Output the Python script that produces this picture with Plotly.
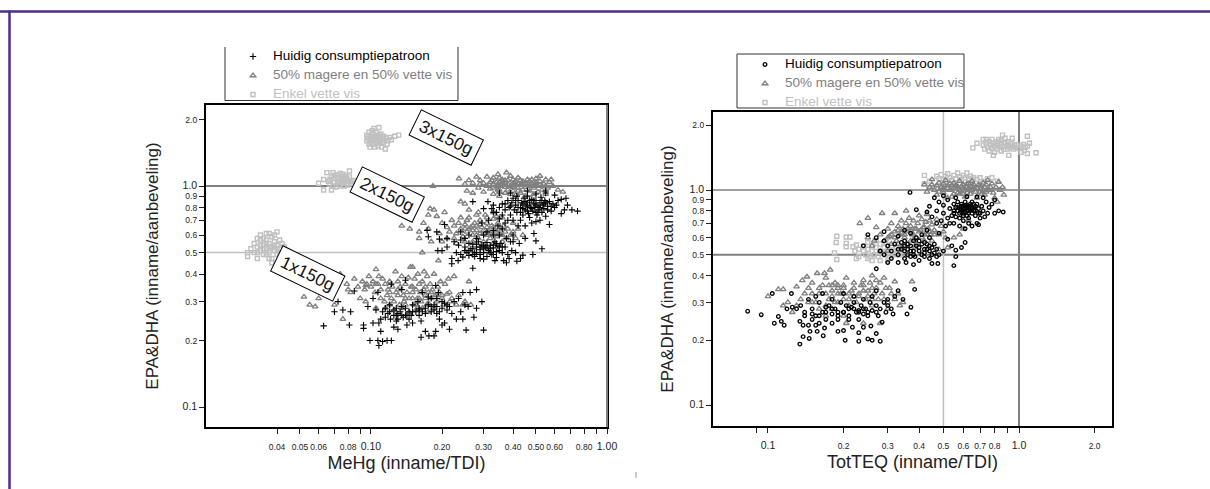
import plotly.graph_objects as go

# ---------- left panel: MeHg (x, y) ----------
mehg_huidig = [
 (.063,.233),(.0725,.30),(.07,.27),(.076,.275),(.082,.27),(.081,.235),(.085,.335),(.099,.2),(.107,.2),(.108,.19),(.112,.198),(.117,.2),(.122,.2),(.11,.22),(.093,.235),(.093,.227),(.102,.24),(.097,.285),(.102,.31),(.107,.33),(.122,.36),(.105,.275),(.112,.27),(.118,.265),(.121,.25),(.128,.245),(.133,.27),(.137,.255),(.142,.26),(.148,.26),(.155,.27),(.163,.245),(.115,.255),(.125,.275),(.12,.29),(.13,.265),(.135,.285),(.14,.28),(.15,.29),(.158,.30),(.165,.27),(.17,.28),(.175,.29),(.18,.27),(.185,.275),(.19,.265),(.195,.27),(.20,.30),(.205,.295),(.21,.275),(.215,.285),(.195,.25),(.2,.235),(.205,.24),(.215,.225),(.163,.207),(.17,.22),(.176,.21),(.188,.22),(.185,.21),(.253,.223),(.30,.223),(.295,.30),(.28,.34),(.263,.33),(.245,.33),(.273,.255),(.28,.28),(.258,.285),(.24,.27),(.245,.25),(.25,.29),(.235,.31),(.225,.30),(.22,.265),(.23,.25),(.15,.24),(.142,.235),(.13,.225),(.125,.23),(.16,.26),(.145,.27),(.128,.26),(.175,.315),(.188,.355),(.193,.33),(.135,.34),(.14,.375),(.165,.33),(.18,.31),(.108,.24),(.115,.28),(.19,.31),
 (.12,.27),(.125,.26),(.13,.25),(.14,.26),(.145,.25),(.15,.27),(.16,.28),(.17,.265),(.18,.285),(.19,.285),(.2,.28),(.135,.26),(.11,.25),(.128,.28),(.185,.29),(.21,.29),(.16,.275),
 (.22,.445),(.22,.47),(.234,.46),(.245,.477),(.27,.425),(.30,.467),(.335,.46),(.34,.475),(.365,.46),(.375,.45),(.415,.457),(.44,.487),(.485,.49),(.53,.52),(.50,.565),(.49,.61),(.173,.63),(.175,.59),(.19,.62),(.195,.575),(.205,.67),(.21,.58),(.192,.51),(.20,.51),(.21,.53),(.235,.54),(.24,.57),(.25,.53),(.255,.50),(.26,.55),(.265,.52),(.27,.545),(.275,.50),(.28,.53),(.285,.56),(.29,.515),(.295,.54),(.30,.50),(.305,.53),(.31,.555),(.315,.51),(.32,.54),(.325,.49),(.33,.525),(.335,.56),(.34,.505),(.345,.535),(.26,.485),(.275,.48),(.29,.49),(.31,.48),(.32,.50),(.35,.51),(.355,.55),(.36,.50),(.37,.53),(.38,.49),(.395,.51),(.41,.50),(.425,.55),(.39,.56),(.40,.60),(.375,.58),(.35,.60),(.33,.60),(.31,.62),(.30,.60),(.28,.58),(.26,.60),(.25,.58),(.24,.62),(.225,.56),(.23,.50),(.24,.49),(.36,.64),(.345,.66),(.37,.68),(.33,.63),(.295,.68),(.40,.56),(.45,.58),(.315,.70),(.43,.47),(.385,.47),
 (.27,.52),(.28,.50),(.30,.52),(.31,.53),(.29,.53),(.33,.54),(.35,.53),(.26,.51),(.28,.545),(.32,.52),(.34,.55),(.30,.54),(.36,.53),(.27,.49),(.29,.47),(.33,.49),(.25,.51),
 (.27,.85),(.313,.85),(.35,.93),(.325,.79),(.33,.76),(.71,.78),(.75,.77),(.67,.88),(.6,.91),(.55,.93),(.57,.67),(.50,.69),(.36,.83),(.37,.78),(.38,.86),(.385,.80),(.39,.74),(.395,.84),(.40,.88),(.405,.78),(.41,.82),(.415,.76),(.42,.86),(.43,.80),(.435,.84),(.44,.74),(.445,.88),(.45,.78),(.455,.82),(.46,.90),(.465,.75),(.47,.84),(.475,.80),(.48,.87),(.485,.77),(.49,.83),(.495,.80),(.50,.86),(.505,.74),(.51,.81),(.515,.78),(.52,.84),(.525,.89),(.53,.76),(.535,.82),(.54,.79),(.545,.86),(.55,.73),(.56,.81),(.57,.85),(.58,.77),(.59,.83),(.60,.80),(.62,.86),(.64,.75),(.66,.78),(.50,.92),(.46,.95),(.40,.70),(.43,.70),(.45,.66),(.47,.72),(.42,.66),(.38,.70),(.34,.76),(.35,.71),(.36,.74),(.30,.79),(.33,.82),(.55,.95),(.64,.87),(.68,.82),(.52,.70),(.48,.68),(.39,.93),(.415,.9),
 (.42,.80),(.44,.79),(.46,.81),(.48,.79),(.50,.82),(.52,.80),(.54,.83),(.56,.78),(.44,.83),(.47,.86),(.50,.76),(.53,.86),(.41,.86),(.43,.76),(.46,.77),(.49,.86),(.51,.76),(.55,.84),(.58,.81),(.61,.82),(.45,.85),(.39,.81),(.37,.83),(.35,.80),
]
mehg_mix = [
 (.052,.315),(.055,.29),(.058,.285),(.06,.31),(.07,.29),(.076,.25),(.079,.36),(.08,.34),(.074,.40),(.071,.38),(.082,.33),(.085,.38),(.088,.35),(.09,.31),(.092,.37),(.094,.34),(.096,.36),(.098,.39),(.10,.35),(.102,.37),(.104,.33),(.105,.42),(.107,.36),(.108,.39),(.11,.34),(.112,.38),(.114,.30),(.115,.36),(.117,.32),(.118,.34),(.12,.37),(.122,.31),(.123,.35),(.125,.30),(.127,.41),(.128,.33),(.13,.37),(.132,.29),(.133,.35),(.135,.39),(.137,.32),(.138,.30),(.14,.36),(.142,.33),(.144,.385),(.145,.31),(.147,.43),(.148,.35),(.15,.33),(.152,.29),(.153,.38),(.155,.34),(.157,.31),(.158,.40),(.16,.36),(.162,.33),(.163,.30),(.165,.37),(.167,.34),(.168,.41),(.17,.32),(.172,.29),(.173,.39),(.175,.33),(.178,.36),(.18,.31),(.182,.34),(.185,.40),(.187,.32),(.19,.30),(.192,.35),(.195,.33),(.197,.37),(.20,.31),(.203,.29),(.206,.36),(.21,.325),(.213,.38),(.216,.30),(.22,.31),(.225,.39),(.235,.32),(.245,.29),(.25,.30),(.26,.37),(.265,.29),(.23,.29),(.215,.33),(.095,.30),(.105,.28),(.115,.28),(.125,.275),(.135,.28),(.145,.27),(.155,.275),(.165,.28),(.175,.27),(.185,.28),
 (.12,.33),(.13,.32),(.14,.31),(.15,.31),(.16,.31),(.17,.31),(.18,.33),(.13,.34),(.15,.35),(.17,.35),(.19,.32),(.2,.32),(.11,.31),(.12,.29),(.14,.29),(.155,.29),(.175,.295),(.105,.36),(.095,.355),
 (.15,.43),(.193,.46),(.165,.50),(.135,.66),(.146,.64),(.16,.58),(.167,.68),(.178,.79),(.185,.78),(.175,.74),(.19,.73),(.205,.76),(.24,.85),(.25,.83),(.26,.78),(.285,.76),(.24,.72),(.255,.70),(.20,.68),(.21,.65),(.215,.62),(.22,.70),(.225,.66),(.23,.61),(.235,.68),(.24,.64),(.245,.59),(.25,.67),(.255,.62),(.26,.72),(.265,.65),(.27,.60),(.275,.68),(.28,.63),(.285,.58),(.29,.70),(.295,.65),(.30,.61),(.305,.74),(.31,.68),(.315,.62),(.32,.58),(.325,.66),(.33,.71),(.335,.63),(.34,.59),(.345,.68),(.35,.64),(.355,.60),(.36,.56),(.365,.66),(.37,.62),(.375,.58),(.38,.64),(.39,.60),(.40,.62),(.41,.58),(.42,.64),(.44,.60),(.31,.72),(.36,.72),(.40,.68),(.27,.56),(.30,.56),(.33,.55),(.25,.56),(.225,.58),(.21,.58),(.195,.61),(.28,.74),(.34,.73),(.33,.76),(.20,.56),(.23,.55),(.18,.56),(.16,.62),(.175,.64),
 (.26,.64),(.27,.63),(.28,.66),(.29,.61),(.30,.63),(.31,.65),(.32,.61),(.33,.6),(.34,.62),(.35,.61),(.27,.66),(.29,.67),(.31,.6),(.28,.6),(.25,.64),(.36,.6),(.33,.65),
 (.236,1.08),(.26,1.06),(.28,1.1),(.255,.95),(.27,.93),(.183,1.0),(.375,1.15),(.345,1.13),(.52,1.11),(.65,.94),(.62,.96),(.59,1.0),(.57,1.04),(.55,1.07),(.54,1.02),(.52,1.05),(.50,1.08),(.50,1.0),(.48,1.03),(.46,1.07),(.45,.99),(.44,1.05),(.42,1.09),(.42,.98),(.40,1.03),(.39,1.11),(.38,1.06),(.37,.99),(.36,1.04),(.35,1.09),(.345,.96),(.33,1.02),(.325,1.06),(.32,.97),(.31,1.1),(.30,1.03),(.30,.94),(.29,1.06),(.285,.98),(.33,.92),(.35,.90),(.37,.93),(.39,.92),(.41,.91),(.43,.93),(.45,.90),(.47,.95),(.49,.92),(.51,.94),(.53,.96),(.55,.92),(.38,.96),(.40,.99),(.43,1.01),(.35,1.0),(.31,1.0),(.47,1.0),(.44,.96),(.36,1.07),(.33,1.09),(.40,1.07),(.56,.98),(.58,1.07),(.5,1.04),(.41,1.05),(.37,1.03),(.34,1.04),(.27,1.03),(.29,1.02),(.25,1.02),(.48,1.07),
 (.32,1.04),(.34,1.0),(.36,1.01),(.38,1.02),(.40,1.01),(.42,1.03),(.44,1.01),(.46,1.03),(.48,1.0),(.50,1.02),(.52,1.01),(.35,1.04),(.37,1.06),(.39,1.0),(.41,1.02),(.43,1.06),(.45,1.03),(.47,1.05),(.49,.98),(.53,1.0),(.33,.98),(.35,.96),(.55,1.0),(.40,.95),(.42,.95),
]
mehg_vet = [
 (.030,.50),(.030,.48),(.031,.52),(.032,.50),(.032,.55),(.033,.47),(.033,.53),(.034,.57),(.034,.51),(.034,.60),(.035,.49),(.035,.54),(.036,.52),(.036,.57),(.036,.61),(.037,.47),(.037,.50),(.037,.55),(.038,.53),(.038,.59),(.038,.45),(.039,.51),(.039,.56),(.040,.49),(.040,.54),(.040,.62),(.041,.52),(.041,.57),(.042,.50),(.042,.55),(.043,.53),(.043,.47),(.035,.58),(.039,.60),(.037,.61),(.034,.54),(.036,.49),(.041,.49),(.044,.51),(.038,.47),(.033,.58),(.035,.52),(.037,.53),(.039,.54),(.040,.52),(.033,.50),(.036,.55),
 (.060,1.03),(.063,1.07),(.063,.96),(.065,1.15),(.066,1.05),(.067,1.02),(.068,1.1),(.068,.96),(.069,1.15),(.07,1.04),(.07,1.08),(.071,.99),(.072,1.12),(.072,1.05),(.073,1.02),(.073,1.09),(.074,1.14),(.074,1.0),(.075,1.06),(.075,1.1),(.076,1.03),(.076,1.13),(.077,1.08),(.077,1.0),(.078,1.05),(.078,1.11),(.079,1.03),(.079,1.08),(.08,1.01),(.08,1.06),(.081,1.1),(.081,1.17),(.082,1.05),(.083,1.03),(.084,1.06),(.072,1.09),(.074,1.04),(.076,1.07),(.078,1.09),(.07,1.12),(.069,1.0),(.067,1.07),
 (.096,1.6),(.096,1.7),(.097,1.65),(.098,1.55),(.098,1.75),(.099,1.62),(.099,1.5),(.1,1.68),(.1,1.58),(.101,1.78),(.101,1.65),(.102,1.55),(.102,1.72),(.103,1.6),(.103,1.82),(.104,1.68),(.104,1.5),(.105,1.62),(.105,1.75),(.106,1.58),(.106,1.66),(.107,1.7),(.107,1.52),(.108,1.62),(.108,1.84),(.109,1.56),(.109,1.68),(.11,1.6),(.11,1.72),(.111,1.5),(.112,1.64),(.112,1.57),(.113,1.68),(.114,1.6),(.115,1.47),(.116,1.65),(.118,1.6),(.12,1.66),(.122,1.62),(.126,1.68),(.131,1.7),(.117,1.55),
]

# ---------- right panel: TotTEQ (x, y) ----------
teq_huidig = [
 (.083,.273),(.094,.263),(.104,.33),(.106,.24),(.113,.245),(.116,.235),(.11,.258),(.119,.28),(.124,.33),(.134,.192),(.138,.208),(.146,.204),(.157,.22),(.147,.22),(.134,.245),(.138,.235),(.166,.21),(.168,.228),(.19,.22),(.2,.222),(.203,.2),(.23,.198),(.25,.203),(.26,.2),(.28,.198),(.27,.215),(.23,.217),(.217,.23),(.24,.23),(.257,.233),(.285,.243),(.315,.265),(.358,.265),(.371,.285),(.345,.31),(.384,.345),(.32,.32),(.15,.28),(.155,.26),(.16,.30),(.165,.27),(.17,.25),(.175,.29),(.18,.265),(.185,.28),(.19,.25),(.195,.30),(.20,.27),(.205,.29),(.21,.26),(.215,.285),(.22,.30),(.225,.27),(.23,.25),(.235,.29),(.24,.265),(.245,.28),(.25,.26),(.255,.30),(.26,.275),(.27,.29),(.275,.26),(.28,.28),(.29,.30),(.295,.27),(.30,.29),(.31,.28),(.15,.25),(.14,.27),(.135,.29),(.145,.31),(.155,.32),(.165,.33),(.18,.31),(.20,.33),(.22,.32),(.24,.31),(.26,.32),(.27,.34),(.14,.26),(.13,.28),(.125,.285),(.19,.27),(.21,.25),(.23,.275),(.17,.27),(.18,.24),(.16,.24),(.155,.235),(.30,.31),(.33,.34),(.145,.235),
 (.2,.27),(.21,.28),(.22,.28),(.23,.27),(.19,.26),(.18,.28),(.24,.28),(.16,.26),(.15,.265),(.25,.27),(.17,.285),(.27,.27),
 (.55,.445),(.475,.455),(.45,.455),(.56,.49),(.30,.46),(.27,.43),(.355,.46),(.385,.49),(.42,.49),(.56,.525),(.59,.54),(.61,.57),(.65,.68),(.68,.70),(.31,.52),(.32,.56),(.33,.50),(.34,.53),(.35,.58),(.36,.50),(.37,.55),(.38,.52),(.39,.60),(.40,.54),(.41,.50),(.42,.57),(.43,.53),(.44,.60),(.45,.50),(.46,.56),(.47,.53),(.48,.63),(.50,.52),(.52,.59),(.54,.55),(.33,.61),(.35,.65),(.37,.63),(.41,.62),(.43,.65),(.29,.58),(.30,.55),(.27,.60),(.25,.62),(.37,.49),(.35,.48),(.33,.46),(.40,.47),(.44,.48),(.38,.45),(.31,.48),(.29,.50),(.28,.52),(.47,.49),(.36,.56),(.38,.58),(.34,.57),(.39,.55),(.42,.53),(.44,.55),(.37,.52),(.35,.52),(.29,.64),(.24,.55),
 (.38,.5),(.40,.52),(.42,.51),(.44,.52),(.46,.51),(.43,.56),(.41,.56),(.36,.53),(.35,.55),(.45,.54),(.48,.5),(.4,.58),(.33,.53),
 (.368,.975),(.39,.81),(.43,.79),(.865,.79),(.80,.78),(.73,.75),(.70,.74),(.69,.69),(.48,.88),(.50,.85),(.50,.78),(.52,.90),(.53,.82),(.54,.76),(.55,.86),(.55,.80),(.56,.75),(.57,.88),(.57,.83),(.58,.78),(.58,.74),(.59,.86),(.59,.81),(.60,.84),(.60,.78),(.61,.88),(.61,.82),(.62,.76),(.62,.85),(.63,.80),(.63,.74),(.64,.86),(.64,.82),(.65,.78),(.65,.88),(.66,.83),(.67,.76),(.67,.80),(.68,.86),(.69,.82),(.70,.78),(.71,.84),(.72,.80),(.74,.88),(.76,.83),(.78,.86),(.80,.90),(.83,.80),(.45,.75),(.47,.70),(.49,.72),(.51,.68),(.53,.70),(.55,.70),(.58,.68),(.61,.66),(.63,.70),(.47,.80),(.52,.74),(.44,.84),(.46,.92),(.50,.94),(.56,.92),(.62,.93),(.68,.93),(.75,.78),(.72,.92),(.60,.72),
 (.58,.82),(.59,.79),(.60,.82),(.61,.85),(.62,.80),(.62,.83),(.63,.78),(.63,.84),(.64,.80),(.65,.82),(.66,.80),(.67,.84),(.6,.76),(.59,.84),(.57,.80),(.56,.83),(.64,.84),(.61,.79),(.66,.86),(.69,.78),(.55,.78),
]
teq_mix = [
 (.10,.32),(.11,.345),(.115,.345),(.13,.355),(.137,.38),(.143,.395),(.157,.41),(.168,.41),(.177,.425),(.26,.40),(.29,.39),(.375,.375),(.32,.375),(.305,.35),(.115,.29),(.12,.30),(.125,.27),(.13,.29),(.135,.31),(.14,.33),(.145,.35),(.15,.37),(.155,.30),(.16,.33),(.165,.36),(.17,.39),(.175,.31),(.18,.34),(.185,.37),(.19,.30),(.195,.33),(.20,.36),(.205,.39),(.21,.31),(.215,.34),(.22,.37),(.225,.30),(.23,.33),(.235,.36),(.24,.38),(.245,.31),(.25,.34),(.255,.37),(.26,.29),(.265,.33),(.27,.35),(.275,.31),(.28,.37),(.285,.33),(.295,.35),(.30,.30),(.31,.33),(.32,.31),(.33,.33),(.335,.29),(.16,.28),(.17,.29),(.18,.28),(.19,.36),(.15,.33),(.145,.30),(.21,.29),(.175,.36),(.24,.34),(.22,.32),(.27,.38),(.2,.33),(.19,.35),(.185,.30),(.3,.28),(.345,.30),(.17,.26),(.2,.26),(.205,.24),(.24,.24),(.28,.24),
 (.17,.33),(.18,.32),(.19,.33),(.2,.31),(.21,.33),(.22,.35),(.23,.32),(.24,.36),(.25,.32),(.26,.35),(.18,.36),(.2,.35),(.16,.35),(.15,.30),(.26,.31),(.29,.31),
 (.232,.70),(.25,.74),(.285,.78),(.32,.78),(.355,.80),(.28,.62),(.29,.58),(.30,.66),(.305,.61),(.31,.70),(.32,.64),(.325,.58),(.33,.68),(.335,.62),(.34,.72),(.345,.66),(.35,.60),(.355,.70),(.36,.64),(.365,.74),(.37,.68),(.375,.62),(.38,.72),(.385,.66),(.39,.60),(.395,.70),(.40,.76),(.405,.65),(.41,.73),(.415,.67),(.42,.62),(.425,.71),(.43,.77),(.435,.66),(.44,.72),(.445,.62),(.45,.69),(.46,.65),(.47,.73),(.48,.62),(.49,.68),(.50,.64),(.51,.60),(.33,.56),(.36,.56),(.39,.56),(.42,.58),(.45,.58),(.55,.60),(.58,.62),(.60,.66),(.63,.72),(.30,.52),(.28,.52),(.26,.55),(.25,.60),(.265,.58),(.27,.67),(.385,.54),(.35,.55),(.31,.56),(.37,.58),(.34,.54),(.48,.53),(.52,.54),
 (.34,.63),(.36,.66),(.38,.62),(.4,.64),(.42,.67),(.44,.64),(.46,.62),(.37,.65),(.33,.65),(.35,.62),(.39,.66),(.41,.6),(.43,.62),(.31,.62),(.32,.6),(.3,.6),(.38,.59),
 (.42,1.06),(.43,.98),(.44,1.03),(.45,1.12),(.46,1.0),(.47,.95),(.48,1.08),(.49,1.03),(.50,.97),(.51,1.11),(.52,1.05),(.53,1.0),(.54,.93),(.55,1.08),(.56,1.02),(.57,.97),(.58,1.1),(.59,1.04),(.60,.99),(.61,.93),(.62,1.07),(.63,1.02),(.64,.96),(.65,1.1),(.66,1.03),(.67,.98),(.68,.92),(.69,1.06),(.70,1.01),(.71,.96),(.72,1.08),(.73,1.03),(.74,.98),(.75,1.11),(.76,1.0),(.78,1.07),(.79,.97),(.81,1.03),(.83,1.09),(.84,1.0),(.86,1.03),(.87,.95),(.80,.92),(.82,.88),(.55,.96),(.60,1.06),(.65,1.0),(.70,1.05),(.52,.92),(.50,1.07),(.57,1.04),(.62,.97),(.48,.98),(.45,1.06),(.74,1.06),(.77,1.03),
 (.5,1.0),(.52,1.02),(.54,1.05),(.56,1.05),(.58,1.0),(.6,1.02),(.62,1.03),(.64,1.0),(.66,1.06),(.68,1.02),(.7,.98),(.72,1.0),(.55,1.02),(.58,.96),(.6,.96),(.65,1.04),(.5,1.02),(.47,1.05),(.53,1.07),(.75,1.0),(.73,.95),(.63,1.07),
]
teq_vet = [
 (.188,.61),(.205,.605),(.212,.605),(.187,.57),(.205,.565),(.205,.545),(.184,.51),(.188,.475),(.218,.545),(.225,.555),(.222,.52),(.225,.48),(.24,.55),(.245,.50),(.25,.53),(.25,.57),(.255,.49),(.26,.52),(.26,.55),(.265,.50),(.27,.54),(.27,.58),(.275,.49),(.28,.52),(.28,.56),(.285,.51),(.29,.54),(.295,.50),(.295,.57),(.30,.53),(.305,.49),(.31,.55),(.315,.52),(.32,.50),(.325,.54),(.33,.52),(.335,.50),(.24,.52),(.26,.47),(.28,.47),(.30,.47),(.23,.49),(.23,.53),(.345,.52),(.25,.48),
 (.42,1.17),(.42,1.07),(.44,1.1),(.47,1.16),(.48,1.13),(.49,1.18),(.5,1.12),(.51,1.16),(.52,1.19),(.53,1.14),(.54,1.11),(.55,1.17),(.56,1.13),(.57,1.2),(.58,1.15),(.59,1.12),(.6,1.17),(.61,1.14),(.62,1.2),(.63,1.13),(.64,1.16),(.65,1.12),(.66,1.14),(.68,1.12),(.7,1.14),(.72,1.1),(.75,1.13),(.78,1.14),(.82,1.1),(.5,1.05),(.46,1.03),(.55,1.07),
 (.655,1.57),(.68,1.65),(.72,1.72),(.74,1.72),(.86,1.8),(.94,1.74),(1.08,1.78),(1.1,1.65),(1.17,1.49),(1.08,1.48),(1.02,1.5),(.91,1.45),(.79,1.45),(.72,1.62),(.73,1.55),(.74,1.65),(.75,1.58),(.76,1.52),(.76,1.68),(.77,1.62),(.78,1.56),(.78,1.72),(.79,1.65),(.80,1.6),(.80,1.5),(.81,1.68),(.82,1.55),(.82,1.62),(.83,1.72),(.84,1.58),(.84,1.65),(.85,1.52),(.85,1.7),(.86,1.6),(.87,1.55),(.88,1.65),(.88,1.74),(.89,1.6),(.90,1.55),(.9,1.68),(.91,1.62),(.92,1.57),(.93,1.65),(.94,1.6),(.95,1.55),(.96,1.63),(.97,1.58),(.98,1.62),(1.0,1.56),(1.02,1.6),(1.04,1.63),(1.06,1.58),(1.08,1.6),(1.05,1.53),
]

series_names = ["Huidig consumptiepatroon", "50% magere en 50% vette vis", "Enkel vette vis"]
dose_labels = ["1x150g", "2x150g", "3x150g"]

y_tickvals = [.1,.2,.3,.4,.5,.6,.7,.8,.9,1,2]
y_ticktext = ["0.1","0.2","0.3","0.4","0.5","0.6","0.7","0.8","0.9","1.0","2.0"]
y_big = {"0.1","1.0"}
mehg_tickvals = [.04,.05,.06,.07,.08,.09,.1,.2,.3,.4,.5,.6,.7,.8,.9,1]
mehg_ticktext = ["0.04","0.05","0.06","","0.08","","0.10","0.20","0.30","0.40","0.50","0.60","","0.80","","1.00"]
mehg_big = {"0.10","1.00"}
teq_tickvals = [.09,.1,.2,.3,.4,.5,.6,.7,.8,.9,1,2]
teq_ticktext = ["","0.1","0.2","0.3","0.4","0.5","0.6","0.7","0.8","","1.0","2.0"]
teq_big = {"0.1","1.0"}

BLACK, GREY, LIGHT = "#000000", "#808080", "#c0c0c0"
W, H = 1210, 489
px = lambda v: v / W
py = lambda v: 1 - v / H

def sized(labels, big):
    return [f'<span style="font-size:{10.5 if t in big else 8.5}px">{t}</span>' if t else "" for t in labels]

def legend_name(i):
    col = [BLACK, GREY, LIGHT][i]
    return f'<span style="color:{col};font-size:13.5px">{series_names[i]}</span>'

def add(points, name, symbol, size, color, xa, ya, legend, lw=1):
    fig.add_trace(go.Scatter(x=[p[0] for p in points], y=[p[1] for p in points], mode="markers",
        name=name, xaxis=xa, yaxis=ya, legend=legend,
        marker=dict(symbol=symbol, size=size, color=color, line=dict(color=color, width=lw))))

fig = go.Figure()
add(mehg_vet, legend_name(2), "square-open", 4, LIGHT, "x", "y", "legend", 1.4)
add(mehg_mix, legend_name(1), "triangle-up-open", 5, GREY, "x", "y", "legend", 1.3)
add(mehg_huidig, legend_name(0), "cross-thin", 4.5, BLACK, "x", "y", "legend", 1.1)
add(teq_vet, legend_name(2), "square-open", 4, LIGHT, "x2", "y2", "legend2", 1.4)
add(teq_mix, legend_name(1), "triangle-up-open", 5, GREY, "x2", "y2", "legend2", 1.3)
add(teq_huidig, legend_name(0), "circle-open", 3.6, BLACK, "x2", "y2", "legend2", 1.3)

axis_common = dict(type="log", showgrid=False, zeroline=False, showline=True, mirror=True, tickangle=0,
                   linecolor="black", linewidth=2, ticks="outside", ticklen=5, tickcolor="#222",
                   tickfont=dict(family="Liberation Sans", size=9, color="#222"), tickmode="array")
title_font = dict(family="Liberation Sans", size=17, color="#222")

legend_common = dict(bgcolor="rgba(0,0,0,0)", borderwidth=0, traceorder="reversed", xanchor="left", yanchor="top",
                     font=dict(family="Liberation Sans", size=10, color="#222"), itemclick=False)

fig.update_layout(
    width=W, height=H, margin=dict(l=0, r=0, t=0, b=0, autoexpand=False), plot_bgcolor="white", paper_bgcolor="white",
    xaxis=dict(domain=[px(206), px(607)], range=[-1.699, 0], tickvals=mehg_tickvals, ticktext=sized(mehg_ticktext, mehg_big),
               title=dict(text="MeHg (inname/TDI)", font=dict(family="Liberation Sans", size=18, color="#222"), standoff=6),
               anchor="y", ticklabelstandoff=5, **axis_common),
    yaxis=dict(domain=[py(427), py(105)], range=[-1.09, .3665], tickvals=y_tickvals, ticktext=sized(y_ticktext, y_big),
               title=dict(text="EPA&DHA (inname/aanbeveling)", font=title_font, standoff=20),
               anchor="x", **axis_common),
    xaxis2=dict(domain=[px(713), px(1112)], range=[-1.219, .3705], tickvals=teq_tickvals, ticktext=sized(teq_ticktext, teq_big),
               title=dict(text="TotTEQ (inname/TDI)", font=dict(family="Liberation Sans", size=18, color="#222"), standoff=6),
               anchor="y2", ticklabelstandoff=5, **axis_common),
    yaxis2=dict(domain=[py(426), py(112)], range=[-1.0977, .363], tickvals=y_tickvals, ticktext=sized(y_ticktext, y_big),
               title=dict(text="EPA&DHA (inname/aanbeveling)", font=title_font, standoff=12),
               anchor="x2", **axis_common),
    legend=dict(x=px(233), y=py(42), **legend_common),
    legend2=dict(x=px(745), y=py(50), **legend_common),
)

def hline(xr, yr, v, color, w):
    return dict(type="line", xref=f"{xr} domain", x0=0, x1=1, yref=yr, y0=v, y1=v, line=dict(color=color, width=w), layer="below")
def vline(xr, yr, v, color, w):
    return dict(type="line", yref=f"{yr} domain", y0=0, y1=1, xref=xr, x0=v, x1=v, line=dict(color=color, width=w), layer="below")
def box(d, w=1):
    return dict(type="path", xref="paper", yref="paper", path=d, line=dict(color="#333", width=w), fillcolor="rgba(0,0,0,0)")
def P(pts, close=False):
    s = "M" + " L".join(f"{px(a):.5f},{py(b):.5f}" for a, b in pts)
    return s + (" Z" if close else "")

fig.update_layout(shapes=[
    hline("x", "y", 1, GREY, 2), hline("x", "y", .5, LIGHT, 1.5),
    hline("x2", "y2", 1, GREY, 1.5), hline("x2", "y2", .5, GREY, 2),
    vline("x2", "y2", 1, GREY, 2), vline("x2", "y2", .5, LIGHT, 1.5),
    dict(type="line", xref="paper", yref="paper", x0=px(607), x1=px(607), y0=py(105), y1=py(427), line=dict(color=GREY, width=2)),
    box(P([(225, 47), (225, 100.5), (458, 100.5), (458, 47)])),
    box(P([(737, 54), (964, 54), (964, 108), (737, 108)], True)),
    dict(type="line", xref="paper", yref="paper", x0=0, x1=1, y0=py(11.5), y1=py(11.5), line=dict(color="#4f2d8f", width=2.5)),
    dict(type="line", xref="paper", yref="paper", x0=px(9.5), x1=px(9.5), y0=py(10.5), y1=0, line=dict(color="#4f2d8f", width=2.5)),
    dict(type="line", xref="paper", yref="paper", x0=px(636), x1=px(636), y0=py(472), y1=py(478), line=dict(color="#999", width=1)),
])

label_pos = [(308, 273), (387, 195), (446, 138)]
for lab, (a, b) in zip(dose_labels, label_pos):
    fig.add_annotation(text=lab, xref="paper", yref="paper", x=px(a), y=py(b), xanchor="center", yanchor="middle",
                       showarrow=False, textangle=26, width=68, height=27, borderpad=0, bordercolor="black", borderwidth=1,
                       bgcolor="white", font=dict(family="Liberation Sans", size=17.5, color="#111"))

fig.write_html("out.html", post_script="document.documentElement.style.overflow='hidden';document.body.style.margin='0';",
               config={"displayModeBar": False, "responsive": False})
